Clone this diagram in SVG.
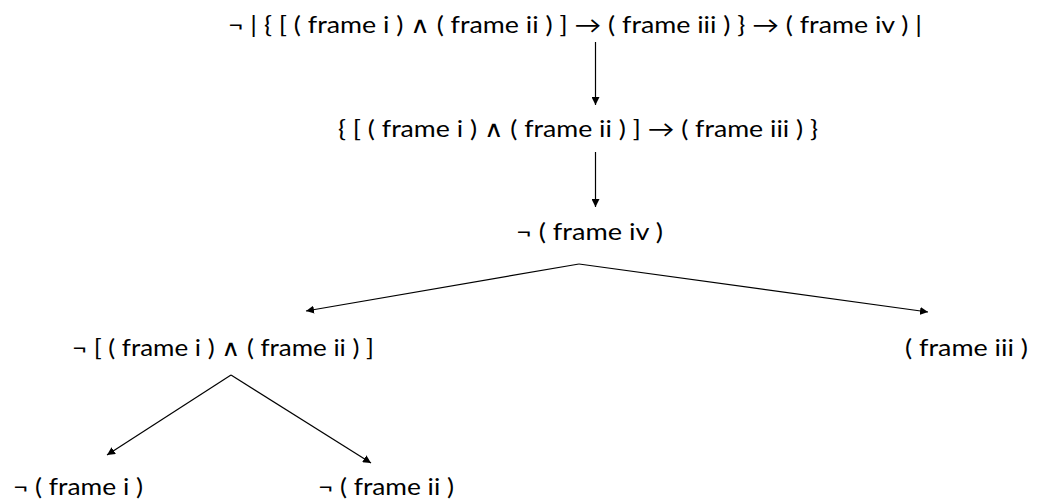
<svg xmlns="http://www.w3.org/2000/svg" width="1037" height="499" viewBox="0 0 1037 499">
  <style>
    .lbl { font-family: Lato, "Liberation Sans", "DejaVu Sans", sans-serif; font-size: 23px; fill: #000; }
    .edge { stroke: #000; stroke-width: 1.2; fill: none; marker-end: url(#head); }
  </style>
  <defs>
    <marker id="head" viewBox="0 0 10 10" refX="10" refY="5" markerWidth="8" markerHeight="8" markerUnits="userSpaceOnUse" orient="auto">
      <path d="M0,0 L10,5 L0,10 z" fill="#000"/>
    </marker>
  </defs>
  <rect width="1037" height="499" fill="#fff"/>

  <g id="connectors">
    <line class="edge" x1="595.5" y1="42" x2="595.5" y2="105"/>
    <line class="edge" x1="595.5" y1="152" x2="595.5" y2="207"/>
    <line class="edge" x1="579" y1="264" x2="306" y2="311"/>
    <line class="edge" x1="579" y1="264" x2="928" y2="312"/>
    <line class="edge" x1="231" y1="375" x2="107" y2="455"/>
    <line class="edge" x1="231" y1="375" x2="371" y2="463"/>
  </g>

  <g id="n-root">
    <text class="lbl" x="228" y="33" textLength="694" lengthAdjust="spacingAndGlyphs">¬ | { [ ( frame i ) ∧ ( frame ii ) ] → ( frame iii ) } → ( frame iv ) |</text>
  </g>
  <g id="n-premise">
    <text class="lbl" x="338" y="137" textLength="480" lengthAdjust="spacingAndGlyphs">{ [ ( frame i ) ∧ ( frame ii ) ] → ( frame iii ) }</text>
  </g>
  <g id="n-not-iv">
    <text class="lbl" x="516" y="240" textLength="147" lengthAdjust="spacingAndGlyphs">¬ ( frame iv )</text>
  </g>
  <g id="n-not-conj">
    <text class="lbl" x="72" y="356" textLength="302" lengthAdjust="spacingAndGlyphs">¬ [ ( frame i ) ∧ ( frame ii ) ]</text>
  </g>
  <g id="n-iii">
    <text class="lbl" x="905" y="356" textLength="123" lengthAdjust="spacingAndGlyphs">( frame iii )</text>
  </g>
  <g id="n-not-i">
    <text class="lbl" x="13" y="495" textLength="130" lengthAdjust="spacingAndGlyphs">¬ ( frame i )</text>
  </g>
  <g id="n-not-ii">
    <text class="lbl" x="318" y="495" textLength="136" lengthAdjust="spacingAndGlyphs">¬ ( frame ii )</text>
  </g>
</svg>
